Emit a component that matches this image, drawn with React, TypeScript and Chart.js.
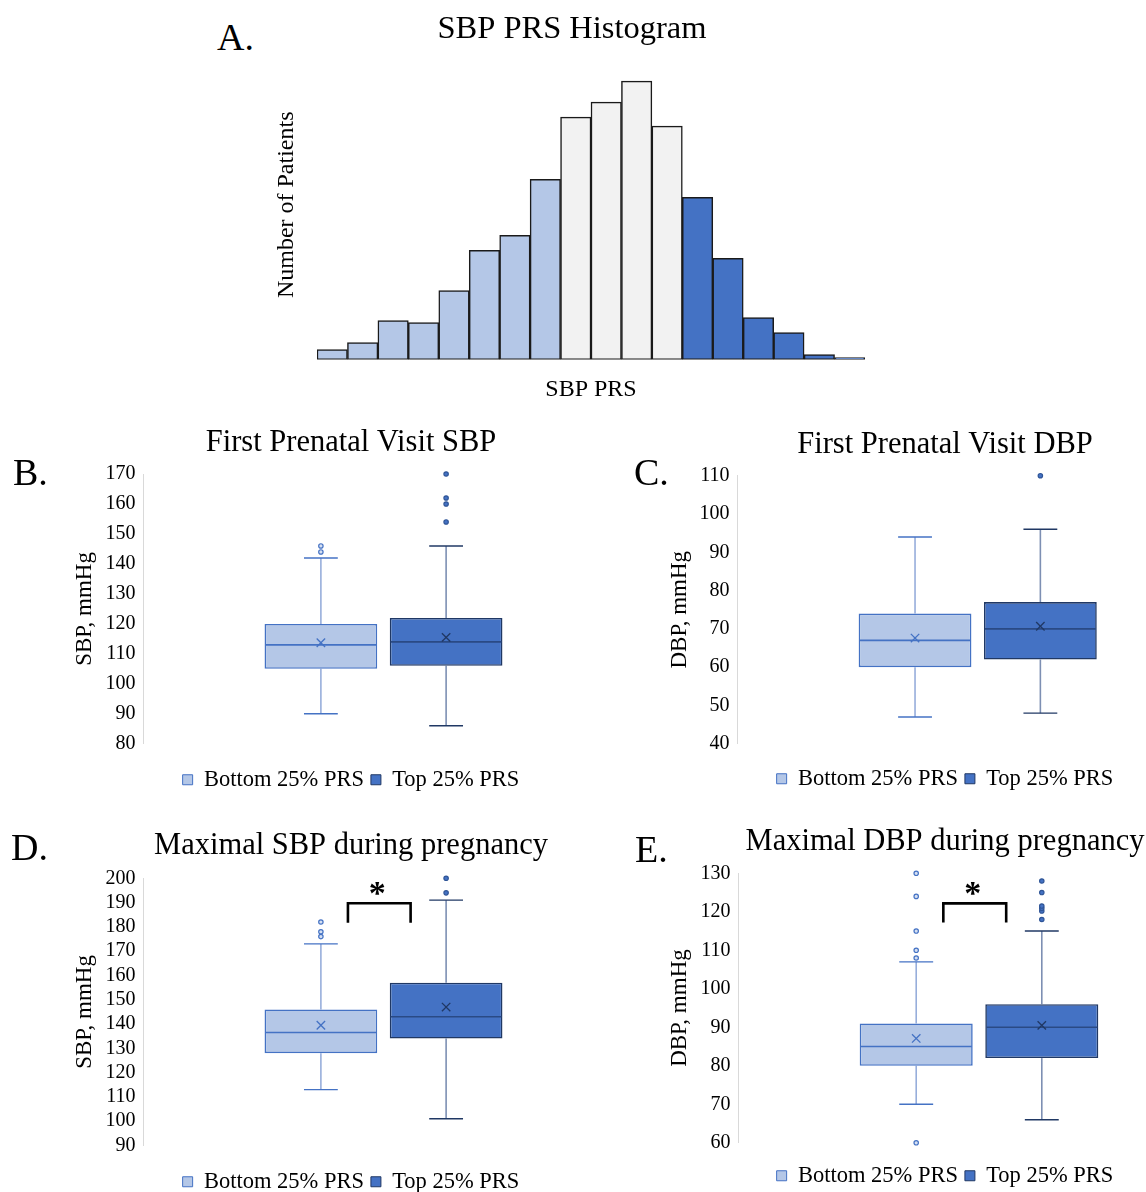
import React, { useEffect, useRef } from 'react';
import { Chart, registerables } from 'chart.js';
Chart.register(...registerables);

const FONT = "'Liberation Serif', 'Times New Roman', Times, serif";
Chart.defaults.font.family = FONT;
Chart.defaults.color = '#000';

// ---------- Panel A: histogram ----------
const histBins = ['1', '2', '3', '4', '5', '6', '7', '8', '9', '10', '11', '12', '13', '14', '15', '16', '17', '18'];
const histCounts = [10, 17, 39, 37, 69, 109, 124, 180, 242, 257, 278, 233, 162, 101, 42, 27, 5, 2];
const histGroup = ['bottom', 'bottom', 'bottom', 'bottom', 'bottom', 'bottom', 'bottom', 'bottom',
  'middle', 'middle', 'middle', 'middle', 'top', 'top', 'top', 'top', 'top', 'top'];

// ---------- series names ----------
const seriesNames = ['Bottom 25% PRS', 'Top 25% PRS'];

// ---------- Panel B: first prenatal visit SBP ----------
const fpSbpMin = [90, 86];
const fpSbpQ1 = [105, 106];
const fpSbpMedian = [113, 114];
const fpSbpQ3 = [120, 122];
const fpSbpMax = [142, 146];
const fpSbpMean = [113.7, 115.5];
const fpSbpOutliers = [[144, 146], [154, 160, 162, 170]];

// ---------- Panel C: first prenatal visit DBP ----------
const fpDbpMin = [47, 48];
const fpDbpQ1 = [60, 62];
const fpDbpMedian = [67, 70];
const fpDbpQ3 = [74, 77];
const fpDbpMax = [94, 96];
const fpDbpMean = [67.6, 70.7];
const fpDbpOutliers = [[], [110]];

// ---------- Panel D: maximal SBP ----------
const maxSbpMin = [113, 101];
const maxSbpQ1 = [128, 134];
const maxSbpMedian = [136.5, 143];
const maxSbpQ3 = [146, 157];
const maxSbpMax = [173, 191];
const maxSbpMean = [139.5, 147];
const maxSbpOutliers = [[176, 178, 182], [194, 200]];
const maxSbpSig = [181.7, 189.7];

// ---------- Panel E: maximal DBP ----------
const maxDbpMin = [70, 66];
const maxDbpQ1 = [80, 82];
const maxDbpMedian = [85, 90];
const maxDbpQ3 = [91, 96];
const maxDbpMax = [107, 115];
const maxDbpMean = [87.1, 90.5];
const maxDbpOutliers = [[60, 108, 110, 115, 124, 130], [118, 120.2, 120.9, 121.5, 125, 128]];
const maxDbpSig = [117.2, 122.2];

const HIST_FILL: Record<string, string> = { bottom: '#B4C7E7', middle: '#F2F2F2', top: '#4472C4' };

const BOX_STYLE = [
  { fill: '#B4C7E7', border: '#4472C4', median: '#4472C4', whisker: '#97AEDB', cap: '#4472C4', mean: '#4472C4', oFill: '#D6E0F2', oStroke: '#4472C4' },
  { fill: '#4472C4', border: '#203864', median: '#2A4A85', whisker: '#7D8FB3', cap: '#203864', mean: '#203864', oFill: '#4472C4', oStroke: '#2F5597' },
];

function seg(ctx: CanvasRenderingContext2D, x1: number, y1: number, x2: number, y2: number) {
  ctx.beginPath();
  ctx.moveTo(x1, y1);
  ctx.lineTo(x2, y2);
  ctx.stroke();
}

function HistPanel() {
  const ref = useRef<HTMLCanvasElement>(null);
  useEffect(() => {
    const chart = new Chart(ref.current!, {
      type: 'bar',
      data: {
        labels: histBins,
        datasets: [{
          data: histCounts,
          backgroundColor: histGroup.map((g) => HIST_FILL[g]),
          borderColor: '#1a1a1a',
          borderWidth: 1.5,
          borderSkipped: false,
          categoryPercentage: 1,
          barPercentage: 1,
        }],
      },
      options: {
        responsive: false,
        animation: false,
        events: [],
        plugins: {
          legend: { display: false },
          tooltip: { enabled: false },
          title: {
            display: true, text: 'SBP PRS Histogram', color: '#000',
            font: { size: 32.5, weight: 'normal', family: FONT },
            padding: { top: 9.5, bottom: 1.5 },
          },
        },
        scales: {
          x: {
            grid: { display: false, drawTicks: false }, border: { display: false }, ticks: { display: false },
            title: { display: true, text: 'SBP PRS', color: '#000', font: { size: 24, family: FONT }, padding: { top: 15.6, bottom: 4 } },
          },
          y: {
            min: 0, max: 309,
            grid: { display: false, drawTicks: false }, border: { display: false }, ticks: { display: false },
            title: { display: true, text: 'Number of Patients', color: '#000', font: { size: 24, family: FONT }, padding: { top: 12.6, bottom: 15.6 } },
          },
          yR: {
            position: 'right', min: 0, max: 1,
            grid: { display: false, drawTicks: false }, border: { display: false }, ticks: { display: false },
            afterFit: (s: any) => { s.width = 19; },
          },
        },
      } as any,
    });
    return () => chart.destroy();
  }, []);
  return <canvas ref={ref} width={624} height={408} style={{ position: 'absolute', left: 260, top: 0 }} />;
}

type BoxProps = {
  left: number; top: number; width: number; height: number;
  title: string; yTitle: string; yMin: number; yMax: number;
  mins: number[]; q1s: number[]; medians: number[]; q3s: number[]; maxs: number[]; means: number[]; outliers: number[][];
  sig?: number[];
  titlePad: [number, number]; yTitlePad: [number, number]; xH: number; rW: number;
};

function BoxPanel(p: BoxProps) {
  const ref = useRef<HTMLCanvasElement>(null);
  useEffect(() => {
    const plugin = {
      id: 'boxPlot',
      beforeDatasetsDraw(chart: any) {
        const ctx = chart.ctx as CanvasRenderingContext2D;
        const ys = chart.scales.y;
        for (let i = 0; i < 2; i++) {
          const el = chart.getDatasetMeta(i).data[0];
          if (!el) continue;
          const x = el.x, w = el.width, st = BOX_STYLE[i];
          const capHalf = w * 0.15;
          ctx.save();
          ctx.strokeStyle = st.whisker; ctx.lineWidth = 1.6;
          seg(ctx, x, ys.getPixelForValue(p.q3s[i]), x, ys.getPixelForValue(p.maxs[i]));
          seg(ctx, x, ys.getPixelForValue(p.q1s[i]), x, ys.getPixelForValue(p.mins[i]));
          ctx.strokeStyle = st.cap; ctx.lineWidth = 1.4;
          const yt = ys.getPixelForValue(p.maxs[i]);
          const yb = ys.getPixelForValue(p.mins[i]);
          seg(ctx, x - capHalf, yt, x + capHalf, yt);
          seg(ctx, x - capHalf, yb, x + capHalf, yb);
          ctx.restore();
        }
      },
      afterDatasetsDraw(chart: any) {
        const ctx = chart.ctx as CanvasRenderingContext2D;
        const ys = chart.scales.y;
        const els: any[] = [];
        for (let i = 0; i < 2; i++) {
          const el = chart.getDatasetMeta(i).data[0];
          els.push(el);
          if (!el) continue;
          const x = el.x, w = el.width, st = BOX_STYLE[i];
          ctx.save();
          ctx.strokeStyle = st.median; ctx.lineWidth = 1.6;
          const ym = ys.getPixelForValue(p.medians[i]);
          seg(ctx, x - w / 2 + 1, ym, x + w / 2 - 1, ym);
          const yMean = ys.getPixelForValue(p.means[i]);
          const r = 4.2;
          ctx.strokeStyle = st.mean; ctx.lineWidth = 1.3;
          seg(ctx, x - r, yMean - r, x + r, yMean + r);
          seg(ctx, x - r, yMean + r, x + r, yMean - r);
          ctx.fillStyle = st.oFill; ctx.strokeStyle = st.oStroke; ctx.lineWidth = 1.2;
          p.outliers[i].forEach((v) => {
            ctx.beginPath();
            ctx.arc(x, ys.getPixelForValue(v), 2.2, 0, Math.PI * 2);
            ctx.fill();
            ctx.stroke();
          });
          ctx.restore();
        }
        if (p.sig && els[0] && els[1]) {
          const x1 = els[0].x + els[0].width * 0.24;
          const x2 = els[1].x - els[1].width * 0.315;
          const yLo = ys.getPixelForValue(p.sig[0]);
          const yHi = ys.getPixelForValue(p.sig[1]);
          ctx.save();
          ctx.strokeStyle = '#000'; ctx.lineWidth = 2.6; ctx.lineJoin = 'miter';
          ctx.beginPath();
          ctx.moveTo(x1, yLo); ctx.lineTo(x1, yHi); ctx.lineTo(x2, yHi); ctx.lineTo(x2, yLo);
          ctx.stroke();
          ctx.fillStyle = '#000';
          ctx.font = `bold 34px ${FONT}`;
          ctx.textAlign = 'center';
          ctx.textBaseline = 'alphabetic';
          ctx.fillText('*', (x1 + x2) / 2 - 2, yHi + 1);
          ctx.restore();
        }
      },
    };

    const chart = new Chart(ref.current!, {
      type: 'bar',
      data: {
        labels: [''],
        datasets: seriesNames.map((name, i) => ({
          label: name,
          data: [[p.q1s[i], p.q3s[i]]],
          backgroundColor: BOX_STYLE[i].fill,
          borderColor: BOX_STYLE[i].border,
          borderWidth: 1.6,
          borderSkipped: false,
          categoryPercentage: 0.522,
          barPercentage: 0.9,
        })),
      },
      options: {
        responsive: false,
        animation: false,
        events: [],
        plugins: {
          tooltip: { enabled: false },
          title: {
            display: true, text: p.title, color: '#000',
            font: { size: 30.5, weight: 'normal', family: FONT },
            padding: { top: p.titlePad[0], bottom: p.titlePad[1] },
          },
          legend: {
            position: 'bottom',
            labels: {
              color: '#000',
              font: { size: 22.5, family: FONT },
              boxWidth: 10, boxHeight: 10, padding: 7,
              generateLabels: (c: any) =>
                (Chart.defaults.plugins.legend.labels.generateLabels as any)(c).map((l: any) => ({ ...l, lineWidth: 1 })),
            },
          },
        },
        scales: {
          x: {
            grid: { display: false, drawTicks: false }, border: { display: false }, ticks: { display: false },
            afterFit: (s: any) => { s.height = p.xH; },
          },
          y: {
            min: p.yMin, max: p.yMax,
            ticks: { stepSize: 10, autoSkip: false, padding: 8, color: '#000', font: { size: 20, family: FONT } },
            grid: { display: false, drawTicks: false },
            border: { display: true, color: '#D9D9D9', width: 1 },
            title: {
              display: true, text: p.yTitle, color: '#000',
              font: { size: 23, family: FONT },
              padding: { top: p.yTitlePad[0], bottom: p.yTitlePad[1] },
            },
          },
          yR: {
            position: 'right', min: 0, max: 1,
            grid: { display: false, drawTicks: false }, border: { display: false }, ticks: { display: false },
            afterFit: (s: any) => { s.width = p.rW; },
          },
        },
      } as any,
      plugins: [plugin],
    });
    return () => chart.destroy();
  }, []);
  return <canvas ref={ref} width={p.width} height={p.height} style={{ position: 'absolute', left: p.left, top: p.top }} />;
}

function Letter({ x, capTop, text }: { x: number; capTop: number; text: string }) {
  return (
    <div style={{ position: 'absolute', left: x, top: capTop - 6.7, fontFamily: FONT, fontSize: 38, lineHeight: '38px', color: '#000', whiteSpace: 'nowrap' }}>
      {text}
    </div>
  );
}

export default function App() {
  return (
    <div style={{ position: 'absolute', left: 0, top: 0, width: 1146, height: 1192, overflow: 'hidden', background: '#fff' }}>
      <HistPanel />
      <BoxPanel
        left={0} top={415} width={702} height={386}
        title="First Prenatal Visit SBP" yTitle="SBP, mmHg" yMin={80} yMax={170}
        mins={fpSbpMin} q1s={fpSbpQ1} medians={fpSbpMedian} q3s={fpSbpQ3} maxs={fpSbpMax} means={fpSbpMean} outliers={fpSbpOutliers}
        titlePad={[9.5, 12.9]} yTitlePad={[71.2, -1.2]} xH={17.7} rW={78.6}
      />
      <BoxPanel
        left={668} top={418} width={554} height={382}
        title="First Prenatal Visit DBP" yTitle="DBP, mmHg" yMin={40} yMax={110}
        mins={fpDbpMin} q1s={fpDbpQ1} medians={fpDbpMedian} q3s={fpDbpQ3} maxs={fpDbpMax} means={fpDbpMean} outliers={fpDbpOutliers}
        titlePad={[9.1, 12]} yTitlePad={[-1.5, -2.5]} xH={16.7} rW={4.2}
      />
      <BoxPanel
        left={0} top={819} width={702} height={384}
        title="Maximal SBP during pregnancy" yTitle="SBP, mmHg" yMin={90} yMax={200}
        mins={maxSbpMin} q1s={maxSbpQ1} medians={maxSbpMedian} q3s={maxSbpQ3} maxs={maxSbpMax} means={maxSbpMean} outliers={maxSbpOutliers}
        sig={maxSbpSig}
        titlePad={[9.1, 13.6]} yTitlePad={[71.2, -1.2]} xH={18} rW={78.6}
      />
      <BoxPanel
        left={668} top={815} width={554} height={382}
        title="Maximal DBP during pregnancy" yTitle="DBP, mmHg" yMin={60} yMax={130}
        mins={maxDbpMin} q1s={maxDbpQ1} medians={maxDbpMedian} q3s={maxDbpQ3} maxs={maxDbpMax} means={maxDbpMean} outliers={maxDbpOutliers}
        sig={maxDbpSig}
        titlePad={[8.8, 12.9]} yTitlePad={[-1.5, -1.7]} xH={14.7} rW={2.4}
      />
      <Letter x={217} capTop={25} text="A." />
      <Letter x={13} capTop={460} text="B." />
      <Letter x={634} capTop={460} text="C." />
      <Letter x={11} capTop={835} text="D." />
      <Letter x={635} capTop={837} text="E." />
    </div>
  );
}
